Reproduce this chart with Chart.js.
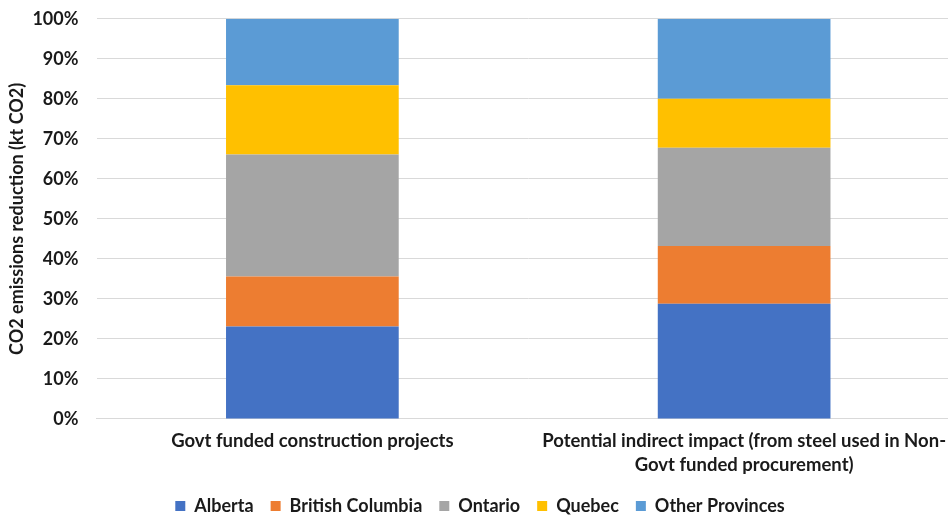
<!DOCTYPE html>
<html>
<head>
<meta charset="utf-8">
<script src="https://cdn.jsdelivr.net/npm/chart.js@4/dist/chart.umd.min.js"></script>
<style>
  html, body { margin: 0; padding: 0; background: #fff; overflow: hidden; }
  /* wrap is wider than the window: the reference crops the right-hand plot edge */
  .chart-wrap { position: absolute; left: 0; top: -10px; width: 960px; height: 525px; }
</style>
</head>
<body>
<div class="chart-wrap"><canvas id="barChart"></canvas></div>
<script>
// Data (percent share of CO2 reduction by province)
const categories = [
  'Govt funded construction projects',
  ['Potential indirect impact (from steel used in Non-', 'Govt funded procurement)']
];
const alberta = [23.1, 28.8];
const britishColumbia = [12.5, 14.4];
const ontario = [30.5, 24.6];
const quebec = [17.3, 12.2];
const otherProvinces = [16.6, 20.0];

(function () {
  const FONT = "Lato, 'Open Sans', sans-serif";
  const GRID = '#d9d9d9';
  const TEXT = '#1a1a1a';

  const series = [
    { label: 'Alberta', data: alberta, color: '#4472c4' },
    { label: 'British Columbia', data: britishColumbia, color: '#ed7d31' },
    { label: 'Ontario', data: ontario, color: '#a5a5a5' },
    { label: 'Quebec', data: quebec, color: '#ffc000' },
    { label: 'Other Provinces', data: otherProvinces, color: '#5b9bd5' }
  ];

  new Chart(document.getElementById('barChart').getContext('2d'), {
    type: 'bar',
    data: {
      labels: categories,
      datasets: series.map(s => ({
        label: s.label,
        data: s.data,
        backgroundColor: s.color,
        borderWidth: 0,
        barPercentage: 0.4,
        categoryPercentage: 1
      }))
    },
    options: {
      responsive: true,
      maintainAspectRatio: false,
      animation: false,
      layout: { padding: { top: 0, right: 0, bottom: -10, left: 0 } },
      plugins: {
        tooltip: { enabled: false },
        legend: {
          position: 'bottom',
          labels: {
            boxWidth: 10, boxHeight: 10, padding: 17,
            color: TEXT,
            font: { family: FONT, size: 18, weight: 'bold' }
          }
        }
      },
      scales: {
        x: {
          stacked: true,
          grid: { display: false },
          border: { color: GRID },
          ticks: {
            color: TEXT, maxRotation: 0, autoSkip: false, padding: 2.5,
            font: { family: FONT, size: 18.5, weight: 'bold', lineHeight: 1.3 }
          }
        },
        y: {
          stacked: true,
          min: 0, max: 100,
          grid: { color: GRID, drawTicks: false },
          border: { display: false },
          afterFit: (scale) => { scale.width = 96.5; },
          ticks: {
            stepSize: 10, padding: 18, color: TEXT,
            font: { family: FONT, size: 18, weight: 'bold' },
            callback: (v) => v + '%'
          },
          title: {
            display: true,
            text: 'CO2 emissions reduction (kt CO2)',
            color: TEXT,
            padding: { top: 6, bottom: 0 },
            font: { family: FONT, size: 18, weight: 'bold' }
          }
        }
      }
    }
  });
})();
</script>
</body>
</html>
